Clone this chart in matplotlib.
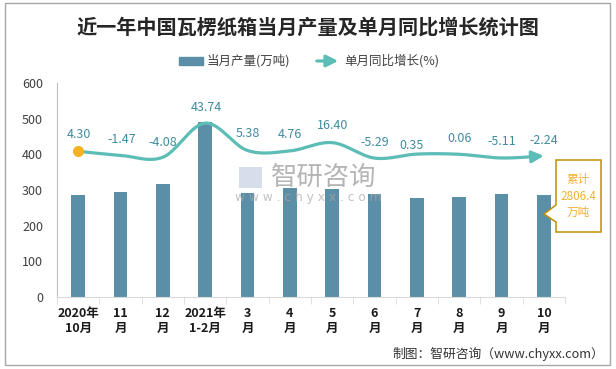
import numpy as np
import matplotlib
matplotlib.use('Agg')
import matplotlib.pyplot as plt
from matplotlib.patches import Rectangle, Polygon, FancyArrowPatch

plt.rcParams['font.family'] = ['Noto Sans CJK SC', 'DejaVu Sans']

# ---------------- data ----------------
categories = ['2020年\n10月', '11\n月', '12\n月', '2021年\n1-2月', '3\n月', '4\n月',
              '5\n月', '6\n月', '7\n月', '8\n月', '9\n月', '10\n月']
production = [286, 294, 317, 491, 292, 306, 304, 288, 277, 279, 288, 285]
growth = [4.30, -1.47, -4.08, 43.74, 5.38, 4.76, 16.40, -5.29, 0.35, 0.06, -5.11, -2.24]
yticks = [0, 100, 200, 300, 400, 500, 600]
title = '近一年中国瓦楞纸箱当月产量及单月同比增长统计图'
legend_bar = '当月产量(万吨)'
legend_line = '单月同比增长(%)'
cumulative_text = '累计\n2806.4\n万吨'
footer = '制图：智研咨询（www.chyxx.com）'

# ---------------- style ----------------
BAR_C = '#5B8FA7'
LINE_C = '#5BBDB5'
LABEL_C = '#3F8C9E'
TEXT_C = '#404040'
W, H = 616, 369


def fx(px):
    return px / W


def fy(py):
    return 1 - py / H


fig = plt.figure(figsize=(W / 100, H / 100), dpi=100)
ax = fig.add_axes([fx(57), fy(297), fx(565) - fx(57), fy(83) - fy(297)])
x = np.arange(len(categories))
ax.bar(x, production, width=0.33, color=BAR_C, zorder=2)
ax.set_xlim(-0.5, len(categories) - 0.5)
ax.set_ylim(0, 600)
ax.set_yticks(yticks)
ax.tick_params(axis='y', length=0, pad=10, labelsize=9, labelcolor=TEXT_C)
for s in ['top', 'right']:
    ax.spines[s].set_visible(False)
ax.spines['left'].set_color('#BFBFBF')
ax.spines['bottom'].set_color('#D9D9D9')
ax.set_xticks(x)
ax.set_xticklabels(categories, fontweight='bold', fontsize=9, linespacing=1.25, color='#1a1a1a')
ax.tick_params(axis='x', which='major', length=0, pad=7)
ax.set_xticks(np.arange(-0.5, len(categories), 1), minor=True)
ax.tick_params(axis='x', which='minor', length=5, color='#D9D9D9')

# watermark (drawn over the bars, semi-transparent)
ax.text(fx(324), fy(177), '智研咨询', transform=fig.transFigure, fontsize=19,
        color='#A8A8A8', alpha=0.85, ha='center', va='center', zorder=2.5)
ax.text(fx(308), fy(198), 'w w w . c h y x x . c o m', transform=fig.transFigure,
        fontsize=8.8, color='#A8A8A8', alpha=0.7, ha='center', va='center', zorder=2.5,
        family='DejaVu Sans')
ax.add_patch(Rectangle((fx(239), fy(188)), fx(262) - fx(239), fy(167) - fy(188),
                       transform=fig.transFigure, facecolor='#D5DEEA', edgecolor='none', zorder=2.5))

# secondary axis for growth line
ax2 = ax.twinx()
ax2.set_ylim(-200, 100)
ax2.axis('off')

# smooth curve (Bezier through points, Excel-like smoothing)
pts = np.column_stack([x, growth]).astype(float)
P = np.vstack([pts[0], pts, pts[-1]])
curve = []
for i in range(1, len(P) - 2):
    p0, p1, p2, p3 = P[i - 1], P[i], P[i + 1], P[i + 2]
    c1 = p1 + (p2 - p0) / 6
    c2 = p2 - (p3 - p1) / 6
    t = np.linspace(0, 1, 40)[:, None]
    seg = (1 - t) ** 3 * p1 + 3 * (1 - t) ** 2 * t * c1 + 3 * (1 - t) * t ** 2 * c2 + t ** 3 * p2
    curve.append(seg if i == len(P) - 3 else seg[:-1])
curve = np.vstack(curve)
cut = curve[:, 0] <= x[-1] - 0.18
ax2.plot(curve[cut, 0], curve[cut, 1], color=LINE_C, lw=2.3, solid_capstyle='round', zorder=3)
start = curve[cut][-1]
ax2.annotate('', xy=(x[-1], growth[-1]), xytext=(start[0], start[1]),
             arrowprops=dict(arrowstyle='-|>,head_length=0.7,head_width=0.35', color=LINE_C,
                             lw=2.3, shrinkA=0, shrinkB=0, mutation_scale=10), zorder=3)
ax2.plot(x[0], growth[0], 'o', color='#F5B324', ms=7, zorder=4)

offsets = [(1, 17), (1.5, 16), (0, 15), (1, 16), (0.5, 16.5), (0, 16),
           (0, 17.5), (0.5, 16), (-5, 9), (0, 16), (0.5, 16), (0, 15)]
for i, g in enumerate(growth):
    ax2.annotate(f'{g:.2f}', xy=(x[i], g), xytext=offsets[i], textcoords='offset pixels',
                 ha='center', va='center', fontsize=9, color=LABEL_C, zorder=5)

# cumulative callout
poly_px = [(556, 160), (601, 160), (601, 232), (556, 232), (556, 222), (544, 214), (556, 205)]
fig.patches.append(Polygon([(fx(a), fy(b)) for a, b in poly_px], closed=True,
                           transform=fig.transFigure, facecolor='white',
                           edgecolor='#BF9000', lw=1.1))
fig.text(fx(578.5), fy(196), cumulative_text, ha='center', va='center', fontsize=8.4,
         color='#F2B134', linespacing=1.3)

# title
fig.text(fx(307.5), fy(27), title, ha='center', va='center', fontsize=14.5,
         fontweight='bold', color='#262626')

# legend
fig.patches.append(Rectangle((fx(179), fy(65)), fx(203) - fx(179), fy(57) - fy(65),
                             transform=fig.transFigure, color=BAR_C))
fig.text(fx(207), fy(61), legend_bar, ha='left', va='center', fontsize=9, color=TEXT_C)
fig.patches.append(FancyArrowPatch((fx(314), fy(61)), (fx(341), fy(61)), transform=fig.transFigure,
                                   arrowstyle='-|>,head_length=0.7,head_width=0.35',
                                   mutation_scale=10, lw=2.3, color=LINE_C))
fig.text(fx(344), fy(61), legend_line, ha='left', va='center', fontsize=9, color=TEXT_C)

# footer
fig.text(fx(604), fy(354), footer, ha='right', va='center', fontsize=9.2, color='#333333')

# border
fig.patches.append(Rectangle((fx(5), fy(365)), fx(610) - fx(5), fy(3) - fy(365),
                             transform=fig.transFigure, fill=False, edgecolor='#A6A6A6', lw=1))

fig.savefig('out.png', dpi=100)
